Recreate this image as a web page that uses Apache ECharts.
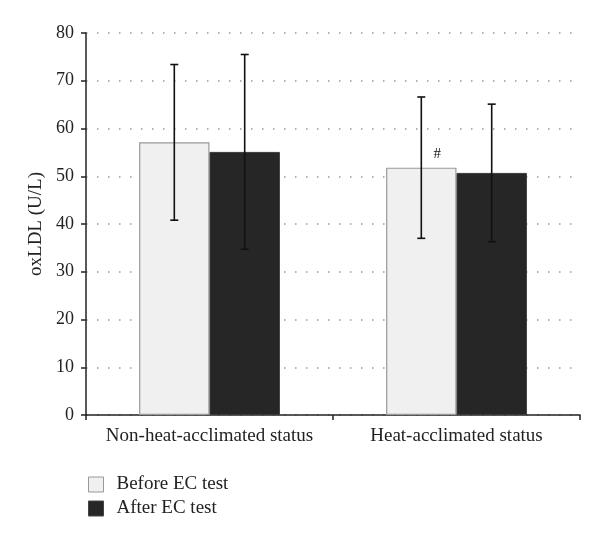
<!DOCTYPE html>
<html>
<head>
<meta charset="utf-8">
<script src="https://cdn.jsdelivr.net/npm/echarts@6/dist/echarts.min.js"></script>
<style>html,body{margin:0;padding:0;background:#fff}#c{width:600px;height:542px}</style>
</head>
<body>
<div id="c"></div>
<script>
const categories = ['Non-heat-acclimated status', 'Heat-acclimated status'];
const seriesNames = ['Before EC test', 'After EC test'];
const beforeMean = [57.1, 51.8];
const beforeSD = [16.3, 14.8];
const afterMean = [55.1, 50.7];
const afterSD = [20.4, 14.4];
const yTicks = [0, 10, 20, 30, 40, 50, 60, 70, 80];
const markLabels = ['', '#'];

const FONT = '"Liberation Serif", "DejaVu Serif", serif';
const BAR_CAT_GAP = 0.43;

function errorSeries(means, sds, sideSign) {
  const data = means.map((m, i) => [i, m - sds[i], m + sds[i]]);
  return {
    type: 'custom',
    z: 10,
    silent: true,
    data: data,
    renderItem: function (params, api) {
      const idx = api.value(0);
      const band = api.size([1, 0])[0];
      const barW = band * (1 - BAR_CAT_GAP) / 2;
      const c = api.coord([idx, 0]);
      const x = c[0] + sideSign * barW / 2;
      const lo = api.coord([idx, api.value(1)])[1];
      const hi = api.coord([idx, api.value(2)])[1];
      const cap = 4;
      const st = { stroke: '#111', lineWidth: 1.6 };
      return {
        type: 'group',
        children: [
          { type: 'line', shape: { x1: x, y1: lo, x2: x, y2: hi }, style: st },
          { type: 'line', shape: { x1: x - cap, y1: hi, x2: x + cap, y2: hi }, style: st },
          { type: 'line', shape: { x1: x - cap, y1: lo, x2: x + cap, y2: lo }, style: st }
        ]
      };
    },
    encode: { x: 0, y: [1, 2] }
  };
}

const chart = echarts.init(document.getElementById('c'), null, { renderer: 'canvas' });
chart.setOption({
  backgroundColor: '#fff',
  animation: false,
  textStyle: { fontFamily: FONT },
  grid: { left: 86, right: 20, top: 33, bottom: 127 },
  legend: {
    orient: 'vertical',
    left: 88,
    top: 475,
    padding: 0,
    itemWidth: 15,
    itemHeight: 15,
    itemGap: 5,
    textStyle: { fontFamily: FONT, fontSize: 19, color: '#222', padding: [0, 0, 0, 8] },
    data: [
      { name: seriesNames[0], icon: 'rect', itemStyle: { color: '#f0f0f0', borderColor: '#999', borderWidth: 1 } },
      { name: seriesNames[1], icon: 'rect', itemStyle: { color: '#262626', borderColor: '#444', borderWidth: 1 } }
    ]
  },
  xAxis: {
    type: 'category',
    data: categories,
    axisLine: { lineStyle: { color: '#222', width: 1.5 } },
    axisTick: { show: true, interval: 0, length: 5, lineStyle: { color: '#222', width: 1.5 } },
    axisLabel: { interval: 0, fontFamily: FONT, fontSize: 19, color: '#222', margin: 12 }
  },
  yAxis: {
    type: 'value',
    min: yTicks[0],
    max: yTicks[yTicks.length - 1],
    interval: 10,
    name: 'oxLDL (U/L)',
    nameLocation: 'middle',
    nameGap: 40,
    nameTextStyle: { fontFamily: FONT, fontSize: 19, color: '#222' },
    axisLine: { show: true, lineStyle: { color: '#222', width: 1.5 } },
    axisTick: { show: true, length: 5, lineStyle: { color: '#222', width: 1.5 } },
    axisLabel: { fontFamily: FONT, fontSize: 18, color: '#222', margin: 12 },
    splitLine: { show: true, lineStyle: { color: '#999', width: 1.5, type: [1.5, 9.5] } }
  },
  series: [
    {
      name: seriesNames[0],
      type: 'bar',
      barGap: '0%',
      barCategoryGap: (BAR_CAT_GAP * 100) + '%',
      data: beforeMean.map((v, i) => ({
        value: v,
        label: {
          show: markLabels[i] !== '',
          formatter: markLabels[i],
          position: 'top',
          offset: [16, -1],
          fontFamily: FONT,
          fontSize: 15,
          color: '#111'
        }
      })),
      itemStyle: { color: '#f0f0f0', borderColor: '#999', borderWidth: 1.2 }
    },
    {
      name: seriesNames[1],
      type: 'bar',
      barGap: '0%',
      barCategoryGap: (BAR_CAT_GAP * 100) + '%',
      data: afterMean,
      itemStyle: { color: '#262626', borderColor: '#3a3a3a', borderWidth: 1 }
    },
    errorSeries(beforeMean, beforeSD, -1),
    errorSeries(afterMean, afterSD, 1)
  ]
});
</script>
</body>
</html>
